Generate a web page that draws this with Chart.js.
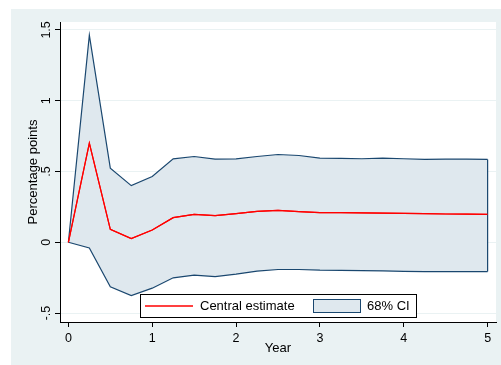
<!DOCTYPE html>
<html>
<head>
<meta charset="utf-8">
<script src="https://cdn.jsdelivr.net/npm/chart.js@4/dist/chart.umd.min.js"></script>
<style>
  html, body { margin: 0; padding: 0; background: #fff; }
  canvas { display: block; }
</style>
</head>
<body>
<canvas id="irfChart" width="501" height="365"></canvas>
<script>
'use strict';

// quarters after the shock, in years
const years = [0, 0.25, 0.5, 0.75, 1, 1.25, 1.5, 1.75, 2, 2.25, 2.5, 2.75, 3, 3.25, 3.5, 3.75, 4, 4.25, 4.5, 4.75, 5];
const central = [0, 0.70, 0.092, 0.026, 0.087, 0.174, 0.197, 0.188, 0.202, 0.218, 0.225, 0.216, 0.209, 0.210, 0.208, 0.206, 0.204, 0.202, 0.200, 0.199, 0.197];
const upper = [0, 1.463, 0.524, 0.400, 0.465, 0.589, 0.606, 0.587, 0.589, 0.606, 0.620, 0.613, 0.594, 0.593, 0.590, 0.595, 0.590, 0.585, 0.587, 0.588, 0.585];
const lower = [0, -0.040, -0.314, -0.377, -0.324, -0.251, -0.232, -0.242, -0.225, -0.204, -0.192, -0.192, -0.197, -0.198, -0.200, -0.202, -0.205, -0.207, -0.207, -0.207, -0.207];

const yTicks = [-0.5, 0, 0.5, 1, 1.5];
const xTicks = [0, 1, 2, 3, 4, 5];
const legendLabels = ['Central estimate', '68% CI'];

const outerBg = '#eaf2f3';
const ciFill = '#dfe8ee';
const navy = '#1a476f';
const fontFamily = "'Liberation Sans', Arial, sans-serif";

let toPoints = function(values) {
  return years.map((x, i) => ({x: x, y: values[i]}));
};

// stata-ish shading: light outer frame, white plot region
let backgroundPlugin = {
  id: 'background',
  beforeDraw: function(chart) {
    let ctx = chart.ctx;
    let area = chart.chartArea;
    ctx.save();
    ctx.fillStyle = '#fff';
    ctx.fillRect(0, 0, chart.width, chart.height);
    ctx.fillStyle = outerBg;
    ctx.fillRect(11, 9, chart.width - 11, chart.height - 9);
    ctx.fillStyle = '#fff';
    ctx.fillRect(area.left, area.top, area.right - area.left, area.bottom - area.top);
    ctx.restore();
  },
};

// close the CI band on its right end
let bandEdgePlugin = {
  id: 'bandEdge',
  afterDatasetsDraw: function(chart) {
    let top = chart.getDatasetMeta(1).data;
    let bottom = chart.getDatasetMeta(2).data;
    let a = top[top.length - 1];
    let b = bottom[bottom.length - 1];
    let ctx = chart.ctx;
    ctx.save();
    ctx.strokeStyle = navy;
    ctx.lineWidth = 1.2;
    ctx.beginPath();
    ctx.moveTo(a.x, a.y);
    ctx.lineTo(b.x, b.y);
    ctx.stroke();
    // redraw the red line over the edge
    chart.getDatasetMeta(0).dataset.draw(ctx, chart.chartArea);
    ctx.restore();
  },
};

let legendBoxPlugin = {
  id: 'legendBox',
  afterDraw: function(chart) {
    let ctx = chart.ctx;
    ctx.save();
    ctx.fillStyle = '#fff';
    ctx.fillRect(140.5, 294.5, 276, 23);
    ctx.strokeStyle = '#000';
    ctx.lineWidth = 1;
    ctx.strokeRect(140.5, 294.5, 276, 23);

    ctx.strokeStyle = '#ff0000';
    ctx.lineWidth = 1.3;
    ctx.beginPath();
    ctx.moveTo(145, 306);
    ctx.lineTo(193, 306);
    ctx.stroke();

    ctx.fillStyle = ciFill;
    ctx.fillRect(313.5, 299.5, 47, 13);
    ctx.strokeStyle = navy;
    ctx.lineWidth = 1;
    ctx.strokeRect(313.5, 299.5, 47, 13);

    ctx.fillStyle = '#000';
    ctx.font = '13px ' + fontFamily;
    ctx.textBaseline = 'middle';
    ctx.textAlign = 'left';
    ctx.fillText(legendLabels[0], 200, 306.5);
    ctx.fillText(legendLabels[1], 367, 306.5);
    ctx.restore();
  },
};

let fmtTick = function(value) {
  return String(value).replace('0.', '.');
};

let ctx = document.getElementById('irfChart');
let chartOptions = {
  type: 'line',
  data: {
    datasets: [{
      label: legendLabels[0],
      data: toPoints(central),
      borderColor: '#ff0000',
      borderWidth: 1.2,
      pointRadius: 0,
      tension: 0,
      fill: false,
      order: 0,
    }, {
      label: legendLabels[1],
      data: toPoints(upper),
      borderColor: navy,
      borderWidth: 1.2,
      backgroundColor: ciFill,
      pointRadius: 0,
      tension: 0,
      fill: '+1',
      order: 1,
    }, {
      label: 'lower',
      data: toPoints(lower),
      borderColor: navy,
      borderWidth: 1.2,
      pointRadius: 0,
      tension: 0,
      fill: false,
      order: 2,
    }],
  },
  options: {
    responsive: false,
    animation: false,
    layout: {
      padding: {left: 11, top: 22, right: 5, bottom: 0},
    },
    plugins: {
      legend: {display: false},
      tooltip: {enabled: false},
      filler: {drawTime: 'beforeDatasetsDraw'},
    },
    scales: {
      x: {
        type: 'linear',
        min: -0.1,
        max: 5.1,
        afterFit: function(scale) { scale.height = 43; },
        afterBuildTicks: function(scale) {
          scale.ticks = xTicks.map((v) => ({value: v}));
        },
        ticks: {
          callback: fmtTick,
          color: '#000',
          font: {family: fontFamily, size: 12.5},
          maxRotation: 0,
          padding: 4,
        },
        grid: {
          drawOnChartArea: false,
          tickLength: 5,
          tickColor: '#000',
        },
        border: {color: '#000', width: 1},
        title: {
          display: true,
          text: 'Year',
          color: '#000',
          font: {family: fontFamily, size: 13},
          padding: {top: 0, bottom: 9},
        },
      },
      y: {
        type: 'linear',
        min: -0.563,
        max: 1.556,
        afterFit: function(scale) { scale.width = 49; },
        afterBuildTicks: function(scale) {
          scale.ticks = yTicks.map((v) => ({value: v}));
        },
        ticks: {
          callback: fmtTick,
          color: '#000',
          font: {family: fontFamily, size: 12.5},
          minRotation: 90,
          maxRotation: 90,
          crossAlign: 'center',
          padding: 0,
        },
        grid: {
          color: outerBg,
          lineWidth: 1,
          tickLength: 5,
          tickColor: '#000',
        },
        border: {color: '#000', width: 1},
        title: {
          display: true,
          text: 'Percentage points',
          color: '#000',
          font: {family: fontFamily, size: 13},
          padding: {top: 15, bottom: 0},
        },
      },
    },
  },
  plugins: [backgroundPlugin, bandEdgePlugin, legendBoxPlugin],
};
let irfChart = new Chart(ctx, chartOptions);
</script>
</body>
</html>
